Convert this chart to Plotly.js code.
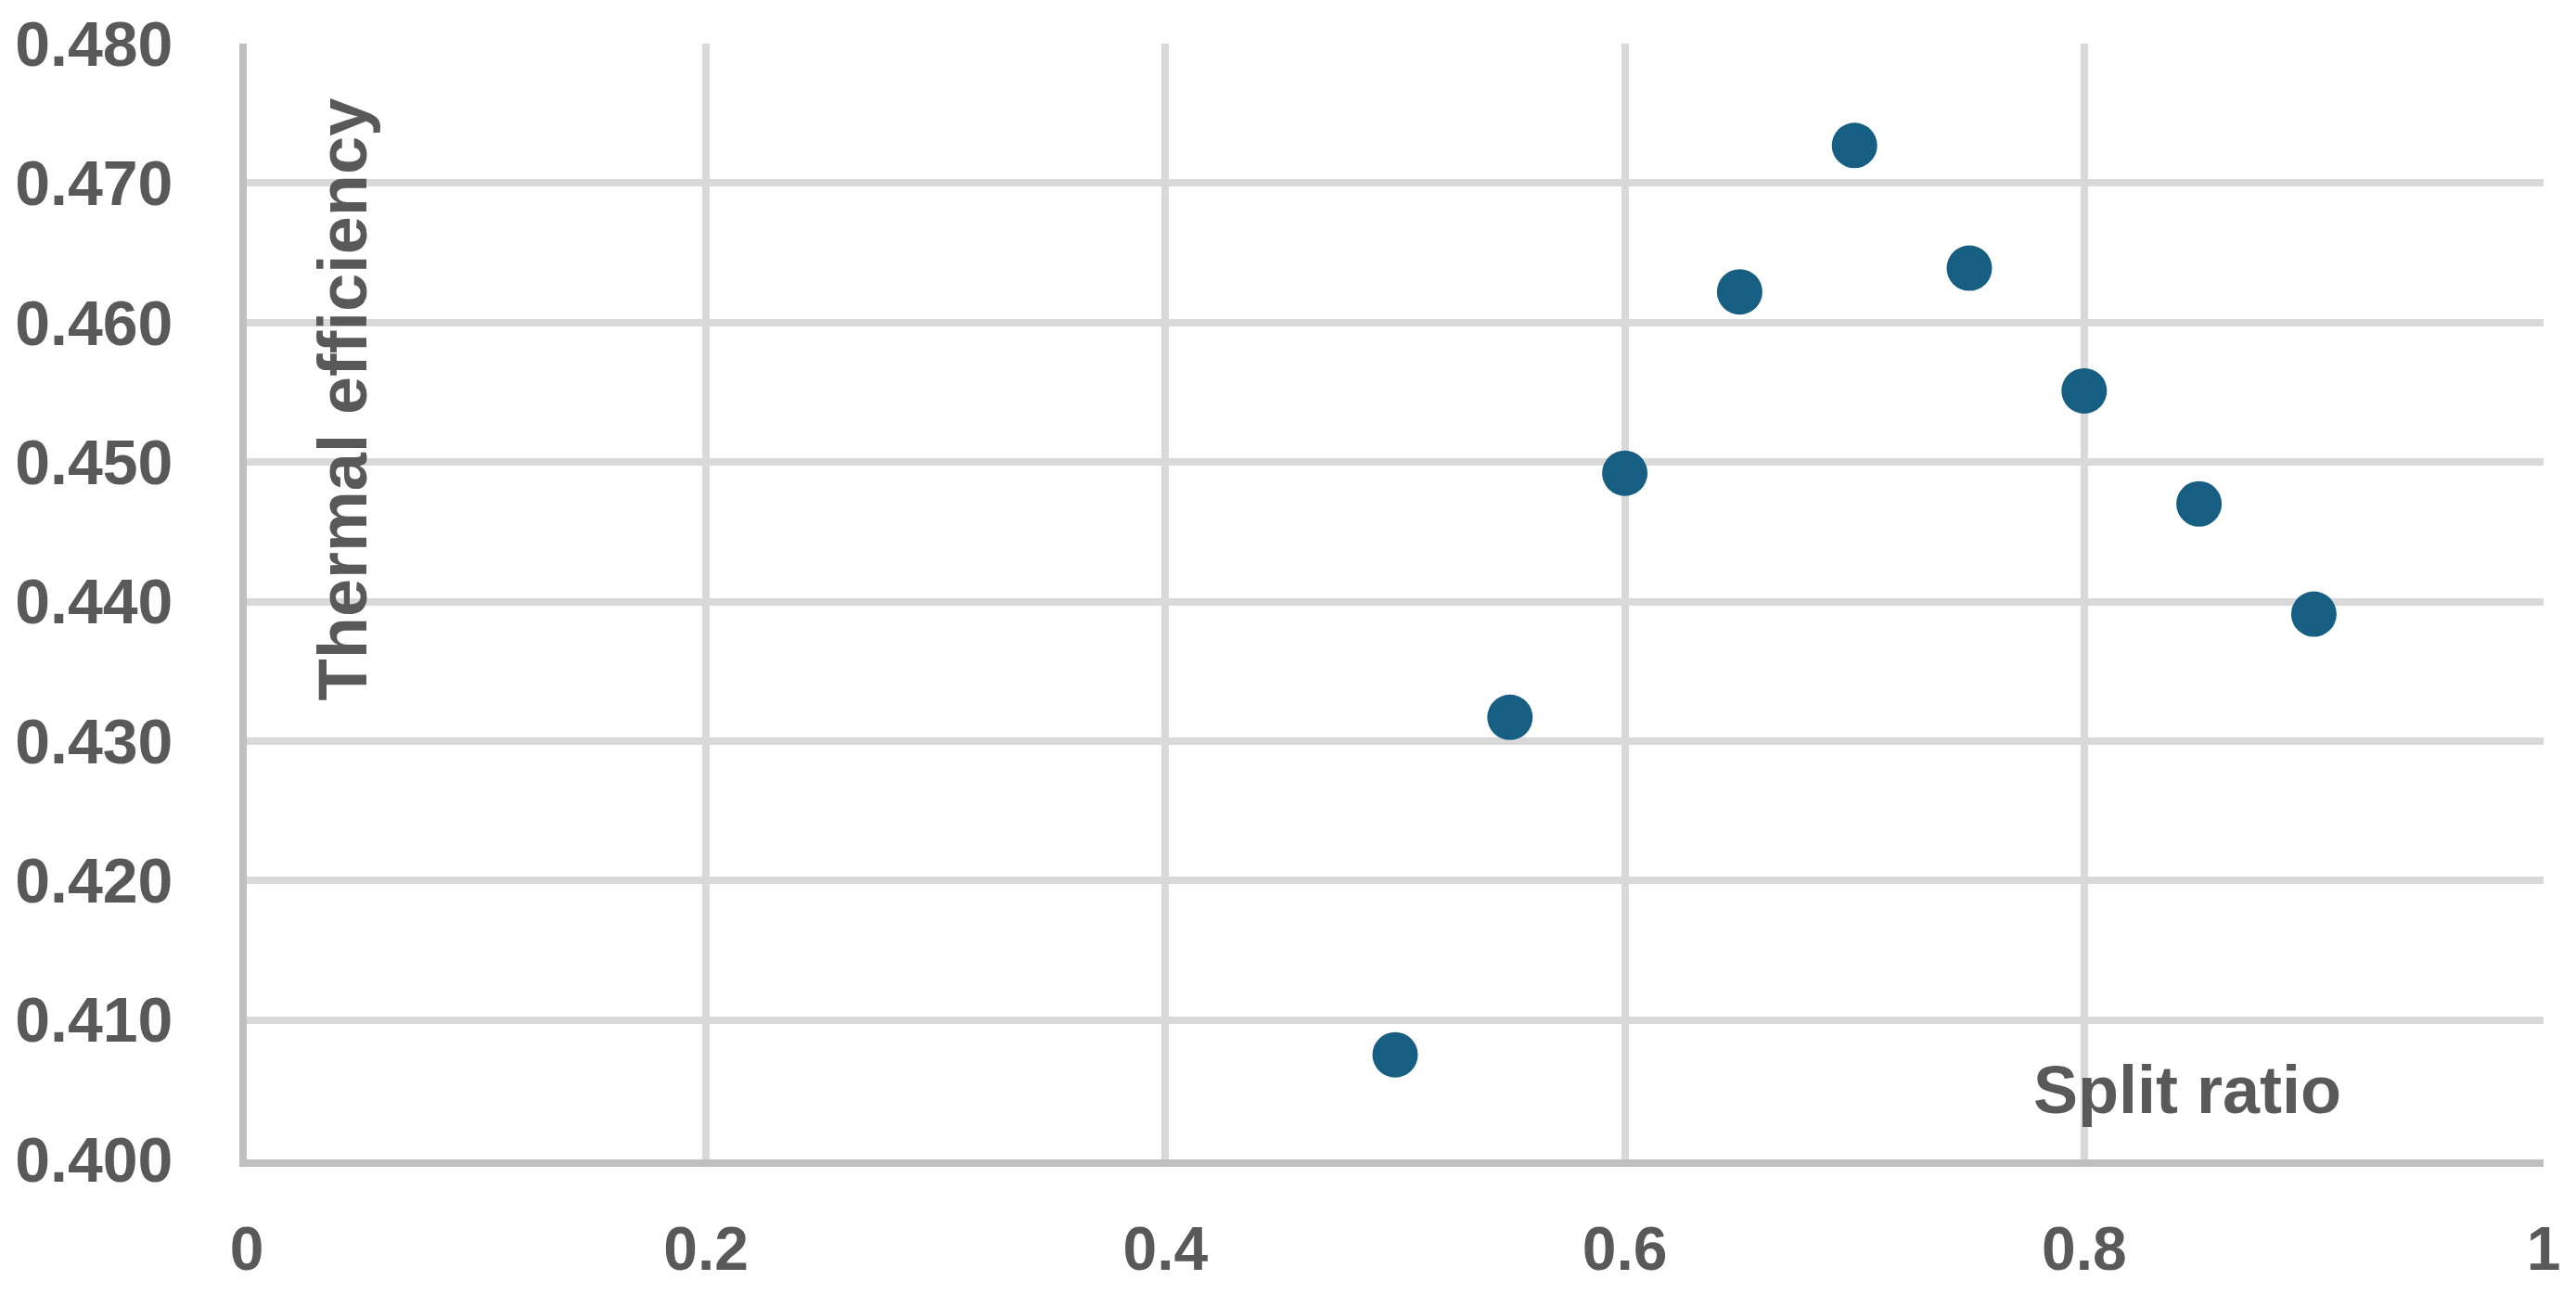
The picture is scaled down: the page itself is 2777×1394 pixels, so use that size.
<!DOCTYPE html>
<html>
<head>
<meta charset="utf-8">
<script src="https://cdn.plot.ly/plotly-3.0.1.min.js"></script>
<style>
  html, body { margin: 0; padding: 0; background: #ffffff; }
  #chart { width: 2777px; height: 1394px; }
</style>
</head>
<body>
<div id="chart"></div>
<script>
// Data
const splitRatio = [0.5, 0.55, 0.6, 0.65, 0.7, 0.75, 0.8, 0.85, 0.9];
const thermalEfficiency = [0.4075, 0.4317, 0.4492, 0.4622, 0.4727, 0.4639, 0.4551, 0.4470, 0.4391];
const xTickValues = [0, 0.2, 0.4, 0.6, 0.8, 1];
const yTickValues = [0.400, 0.410, 0.420, 0.430, 0.440, 0.450, 0.460, 0.470, 0.480];
const xTitle = 'Split ratio';
const yTitle = 'Thermal efficiency';

const textColor = '#595959';
const fontFamily = '"Liberation Sans", Arial, sans-serif';

const trace = {
  type: 'scatter',
  mode: 'markers',
  x: splitRatio,
  y: thermalEfficiency,
  marker: { color: '#175F82', size: 49, line: { width: 0 } },
  hoverinfo: 'x+y',
  showlegend: false
};

const layout = {
  width: 2777,
  height: 1394,
  paper_bgcolor: '#ffffff',
  plot_bgcolor: '#ffffff',
  margin: { l: 266, r: 35, t: 47, b: 144, pad: 0 },
  showlegend: false,
  xaxis: {
    range: [0, 1],
    tickvals: xTickValues,
    ticktext: xTickValues.map(v => String(v)),
    showgrid: true,
    gridcolor: '#D9D9D9',
    gridwidth: 8,
    zeroline: false,
    showline: true,
    linecolor: '#BFBFBF',
    linewidth: 8,
    ticks: '',
    ticklabelstandoff: 32,
    tickfont: { family: fontFamily, size: 66, color: textColor, weight: 'bold' },
    fixedrange: true
  },
  yaxis: {
    range: [0.4, 0.48],
    tickvals: yTickValues,
    ticktext: yTickValues.map(v => v.toFixed(3)),
    showgrid: true,
    gridcolor: '#D9D9D9',
    gridwidth: 8,
    zeroline: false,
    showline: true,
    linecolor: '#BFBFBF',
    linewidth: 8,
    ticks: '',
    ticklabelstandoff: 58,
    tickfont: { family: fontFamily, size: 68, color: textColor, weight: 'bold' },
    fixedrange: true
  },
  annotations: [
    {
      text: yTitle,
      xref: 'x', yref: 'y',
      x: 0.0416, y: 0.4545,
      xanchor: 'center', yanchor: 'middle',
      textangle: -90,
      showarrow: false,
      font: { family: fontFamily, size: 74, color: textColor, weight: 'bold' }
    },
    {
      text: xTitle,
      xref: 'x', yref: 'y',
      x: 0.845, y: 0.4050,
      xanchor: 'center', yanchor: 'middle',
      showarrow: false,
      font: { family: fontFamily, size: 72, color: textColor, weight: 'bold' }
    }
  ]
};

Plotly.newPlot('chart', [trace], layout, { displayModeBar: false, staticPlot: true });
</script>
</body>
</html>
